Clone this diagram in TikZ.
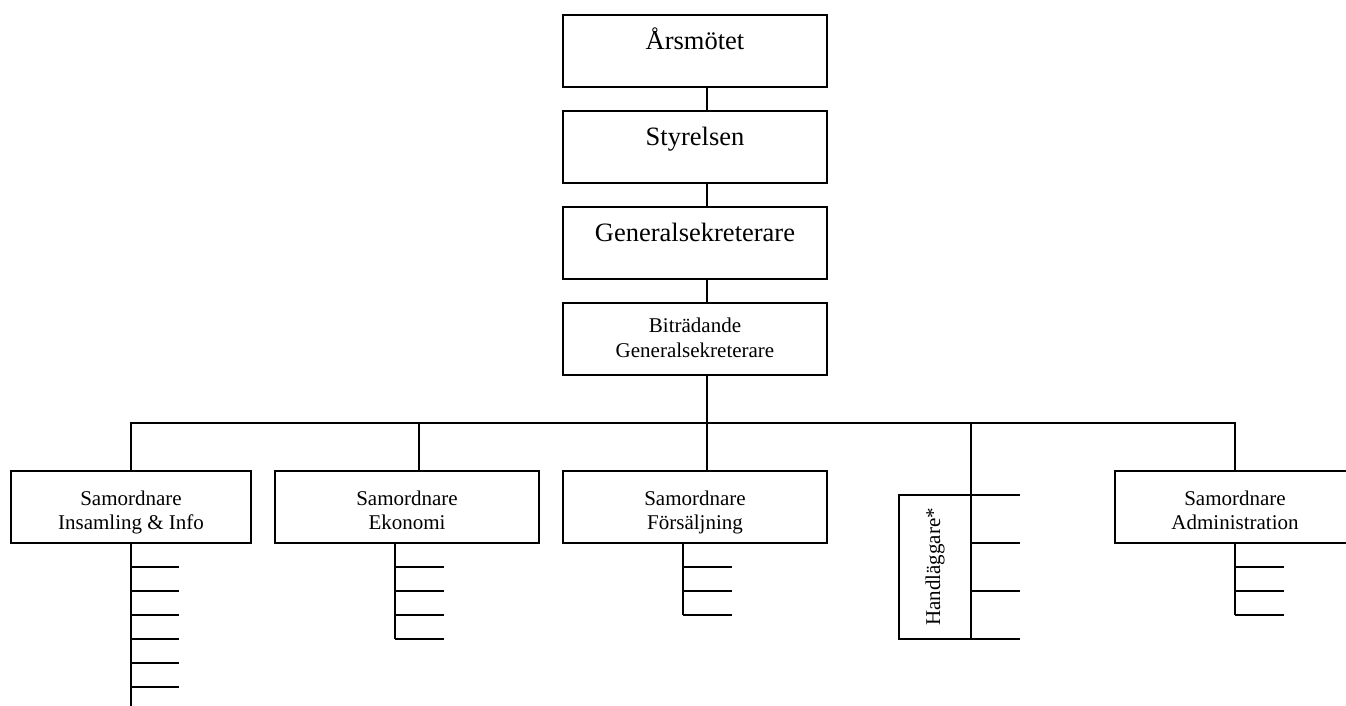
\documentclass[tikz,border=0pt]{standalone}
\usepackage{fontspec}
\setmainfont{Liberation Serif}
\usetikzlibrary{positioning}
\tikzstyle{org}=[x=1pt,y=1pt,line width=1.8pt,node distance=24pt]
\tikzstyle{box}=[rectangle,draw=black,line width=1.8pt,outer sep=0pt,inner sep=0pt]
\tikzstyle{topbox}=[box,minimum width=264pt,minimum height=72pt,font=\fontsize{26.5}{30}\selectfont,text height=18pt,text depth=20pt]
\tikzstyle{subbox}=[box,minimum width=264pt,minimum height=72pt,font=\fontsize{21}{24.5}\selectfont,align=center,text height=46pt,text depth=0pt]
\tikzstyle{narrow}=[minimum width=240pt]

\begin{document}
\begin{tikzpicture}[org]
  \useasboundingbox (0,0) rectangle (1346,706);
  \clip (0,0) rectangle (1346,706);
  % top of the chart
  \node[topbox] (ars) at (695,655) {Årsmötet};
  \node[topbox,below=of ars] (sty) {Styrelsen};
  \node[topbox,below=of sty] (gen) {Generalsekreterare};
  \node[subbox,below=of gen,text height=37pt] (bgen) {Biträdande\\Generalsekreterare};
  \coordinate (spine) at (707,0);
  \coordinate (bus) at (707,283);
  % samordnare row
  \node[subbox,narrow] (sins) at (131,199) {Samordnare\\Insamling \& Info};
  \node[subbox] (seko) at (407,199) {Samordnare\\Ekonomi};
  \node[subbox] (sfor) at (695,199) {Samordnare\\Försäljning};
  \node[box,minimum width=72pt,minimum height=144pt,font=\fontsize{21}{25}\selectfont] (hand) at (935,139) {\rotatebox{90}{Handläggare*}};
  \node[subbox,narrow] (sadm) at (1235,199) {Samordnare\\Administration};
  \coordinate (ekostem) at ([xshift=-12pt]seko.south);
  \coordinate (forstem) at ([xshift=-12pt]sfor.south);

  \path[draw]
    (ars.south -| spine) -- (sty.north -| spine)
    (sty.south -| spine) -- (gen.north -| spine)
    (gen.south -| spine) -- (bgen.north -| spine)
    (bgen.south -| spine) -- (bus);
  \draw (sins.north) |- (bus) -| (sadm.north);
  \draw ([xshift=12pt]seko.north) -- ([xshift=12pt]seko.north |- bus);
  \draw ([xshift=12pt]sfor.north) -- (bus);
  \draw (hand.south east) -- (hand.south east |- bus);

  % staff lines
  \draw (sins.south) -- ++(0,-170);
  \foreach \k in {1,...,6} \draw ([yshift={-24pt*\k}]sins.south) -- ++(48,0);
  \draw (ekostem) -- ++(0,-96);
  \foreach \k in {1,...,4} \draw ([yshift={-24pt*\k}]ekostem) -- ++(49,0);
  \draw (forstem) -- ++(0,-72);
  \foreach \k in {1,...,3} \draw ([yshift={-24pt*\k}]forstem) -- ++(49,0);
  \draw (sadm.south) -- ++(0,-72);
  \foreach \k in {1,...,3} \draw ([yshift={-24pt*\k}]sadm.south) -- ++(49,0);
  \foreach \k in {0,...,3} \draw ([yshift={-48pt*\k}]hand.north east) -- ++(49,0);
\end{tikzpicture}
\end{document}
